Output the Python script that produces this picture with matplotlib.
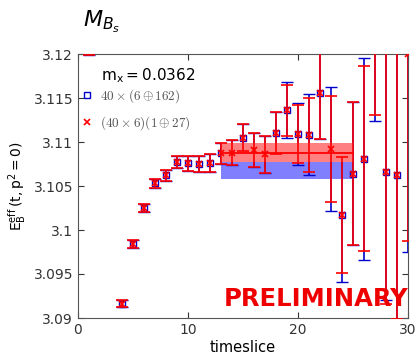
import matplotlib
matplotlib.use('Agg')
import matplotlib.pyplot as plt
from matplotlib.lines import Line2D

plt.rcParams['mathtext.fontset'] = 'dejavusans'

# effective energy per timeslice, two setups
t = [1, 4, 5, 6, 7, 8, 9, 10, 11, 12, 13, 14, 15, 16, 17, 18, 19, 20,
     21, 22, 23, 24, 25, 26, 27, 28, 29, 30]
e_blue = [3.135, 3.0916, 3.0984, 3.1025, 3.1053, 3.1062, 3.1077, 3.1076, 3.1075,
          3.1076, 3.1087, 3.1088, 3.1105, 3.1091, 3.1086, 3.1110, 3.1136, 3.1109,
          3.1108, 3.1156, 3.1092, 3.1017, 3.1064, 3.1081, 3.1255, 3.1066, 3.1062,
          3.1205]
err_blue = [0.0151, 0.0004, 0.0005, 0.0005, 0.0005, 0.0006, 0.0007, 0.00085, 0.0009,
            0.00106, 0.0012, 0.0014, 0.0015, 0.0019, 0.0021, 0.0024, 0.0032, 0.0035,
            0.0046, 0.0053, 0.0070, 0.0076, 0.0081, 0.0115, 0.0131, 0.0145, 0.0163,
            0.0230]
e_red = [3.135, 3.0916, 3.0984, 3.1025, 3.1053, 3.1062, 3.1077, 3.1076, 3.1075,
         3.1076, 3.1087, 3.1088, 3.1105, 3.1091, 3.1086, 3.1110, 3.1136, 3.1109,
         3.1108, 3.1156, 3.1092, 3.1017, 3.1064, 3.1081, 3.1255, 3.1066, 3.1062,
         3.1200]
err_red = [0.0151, 0.0004, 0.0005, 0.0005, 0.0005, 0.0006, 0.0007, 0.00085, 0.0009,
           0.00106, 0.0012, 0.0014, 0.0015, 0.0019, 0.0021, 0.0024, 0.0029, 0.0033,
           0.0042, 0.0053, 0.0060, 0.0066, 0.0081, 0.0105, 0.0124, 0.0150, 0.0163,
           0.0212]

# fit results (plateau t = 13..25)
fit_range = [13, 25]
fit_blue, fit_blue_err = 3.1068, 0.00099
fit_red, fit_red_err = 3.1088, 0.00104

yticks = [3.09, 3.095, 3.1, 3.105, 3.11, 3.115, 3.12]
ytick_labels = ['3.09', '3.095', '3.1', '3.105', '3.11', '3.115', '3.12']

fig = plt.figure(figsize=(4.16, 3.61), dpi=100)
ax = fig.add_axes([78 / 416, 1 - 318 / 361, 330 / 416, 264 / 361])

blue = '#0000cc'
red = '#ff0000'

ax.fill_between(fit_range, fit_blue - fit_blue_err, fit_blue + fit_blue_err,
                color='#8080ff', lw=0, zorder=1)
ax.errorbar(t, e_blue, yerr=err_blue, fmt='s', ms=4.5, mfc='none', mec=blue,
            mew=1.0, ecolor=blue, elinewidth=1.2, capsize=4, capthick=1.2,
            zorder=2)
ax.fill_between(fit_range, fit_red - fit_red_err, fit_red + fit_red_err,
                color='#ff8080', lw=0, zorder=3)
ax.plot(fit_range, [fit_red, fit_red], color=red, lw=1.3, zorder=3.5)
ax.errorbar(t, e_red, yerr=err_red, fmt='x', ms=4, mec=red, mew=1.2,
            ecolor=red, elinewidth=1.2, capsize=4, capthick=1.2, zorder=4)

ax.set_xlim(0, 30)
ax.set_ylim(3.09, 3.12)
ax.set_xticks([0, 10, 20, 30])
ax.set_yticks(yticks)
ax.set_yticklabels(ytick_labels)
ax.tick_params(direction='in', top=True, right=True, length=4, labelsize=10,
               colors='#333333')
for s in ax.spines.values():
    s.set_color('#555555')

ax.set_xlabel('timeslice', fontsize=10.5, labelpad=2)
ax.set_ylabel(r'$\mathsf{E_B^{eff}\,(t, p^2 = 0)}$', fontsize=10, labelpad=4)

ax.text(0.07, 0.955, r'$\mathsf{m_x = 0.0362}$', transform=ax.transAxes,
        fontsize=11, va='top', ha='left')

handles = [Line2D([], [], ls='none', marker='s', ms=4, mfc='none', mec=blue, mew=1.0),
           Line2D([], [], ls='none', marker='x', ms=4, mec=red, mew=1.2)]
labels = [r'$40\times(6\oplus162)$', r'$(40\times6)(1\oplus27)$']
leg = ax.legend(handles, labels, loc='upper left', bbox_to_anchor=(-0.025, 0.92),
                frameon=False, fontsize=9.5, handlelength=0.8, handletextpad=0.6,
                labelspacing=0.75, labelcolor='#555555')
for txt in leg.get_texts():
    txt.set_math_fontfamily('cm')

ax.text(1.0, 0.045, 'PRELIMINARY', transform=ax.transAxes, color='#ee0000',
        fontsize=17.5, fontweight='bold', ha='right', va='baseline', zorder=10)

fig.text(83 / 416, 1 - 27 / 361, r'$M_{B_s}$', fontsize=16, va='baseline')

fig.savefig('out.png', dpi=100)
